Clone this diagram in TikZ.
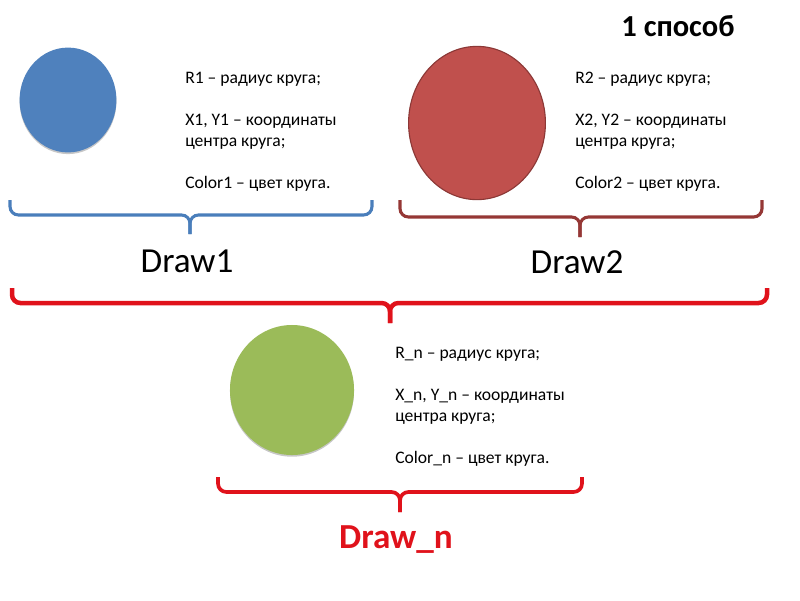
\documentclass[tikz,border=0pt]{standalone}
\usepackage{fontspec}
\setmainfont{Carlito}
\usetikzlibrary{shapes.geometric,shadows}
\definecolor{bluefill}{HTML}{4F81BD}
\definecolor{redfill}{HTML}{C0504D}
\definecolor{redline}{HTML}{8C3836}
\definecolor{greenfill}{HTML}{9BBB59}
\definecolor{bluebrace}{HTML}{4A7EBB}
\definecolor{brownbrace}{HTML}{953735}
\definecolor{redbrace}{HTML}{E0121B}
\begin{document}
\begin{tikzpicture}[x=0.025cm,y=-0.025cm,
  disk/.style={ellipse,inner sep=0pt},
  rim/.style={drop shadow={shadow xshift=0pt,shadow yshift=-1.2pt,fill=black!22,opacity=1}},
  info/.style={anchor=north west,align=left,inner sep=0pt,font=\fontsize{12.5}{14.9}\selectfont},
  drawname/.style={anchor=base,inner sep=0pt,font=\fontsize{25}{30}\selectfont},
  brace/.style={line width=2.2pt,rounded corners=6pt}]
  \useasboundingbox (0,0) rectangle (800,600);
  \node[drawname,font=\bfseries\fontsize{21.7}{26}\selectfont] (way) at (678,36) {1 способ};
  \node[disk,rim,fill=bluefill,minimum width=2.42cm,minimum height=2.62cm] (c1) at (68,100) {};
  \node[disk,fill=redfill,draw=redline,line width=0.8pt,minimum width=3.42cm,minimum height=3.83cm] (c2) at (477,123) {};
  \node[disk,rim,fill=greenfill,minimum width=3.1cm,minimum height=3.25cm] (cn) at (292,390) {};
  \node[info] (t1) at (185,72) {R1 – радиус круга;\\[15pt]X1, Y1 – координаты\\центра круга;\\[15pt]Color1 – цвет круга.};
  \node[info] (t2) at (575,72) {R2 – радиус круга;\\[15pt]X2, Y2 – координаты\\центра круга;\\[15pt]Color2 – цвет круга.};
  \node[info] (tn) at (395,347) {R\_n – радиус круга;\\[15pt]X\_n, Y\_n – координаты\\центра круга;\\[15pt]Color\_n – цвет круга.};
  \draw[brace,bluebrace] (10,200) -- (10,215) -- (190,215) -- (190,234);
  \draw[brace,bluebrace] (372,200) -- (372,215) -- (190,215) -- (190,234);
  \draw[brace,brownbrace] (400,200) -- (400,217) -- (580,217) -- (580,237);
  \draw[brace,brownbrace] (762,200) -- (762,217) -- (580,217) -- (580,237);
  \draw[brace,redbrace,line width=3.2pt] (12,288) -- (12,303) -- (390,303) -- (390,323);
  \draw[brace,redbrace,line width=3.2pt] (767,288) -- (767,303) -- (390,303) -- (390,323);
  \draw[brace,redbrace,line width=2.6pt] (218,477) -- (218,492) -- (400,492) -- (400,512);
  \draw[brace,redbrace,line width=2.6pt] (582,477) -- (582,492) -- (400,492) -- (400,512);
  \node[drawname] (d1) at (187,272) {Draw1};
  \node[drawname] (d2) at (577,273) {Draw2};
  \node[drawname,text=redbrace,font=\bfseries\fontsize{25}{30}\selectfont] (dn) at (396,548) {Draw\_n};
\end{tikzpicture}
\end{document}
